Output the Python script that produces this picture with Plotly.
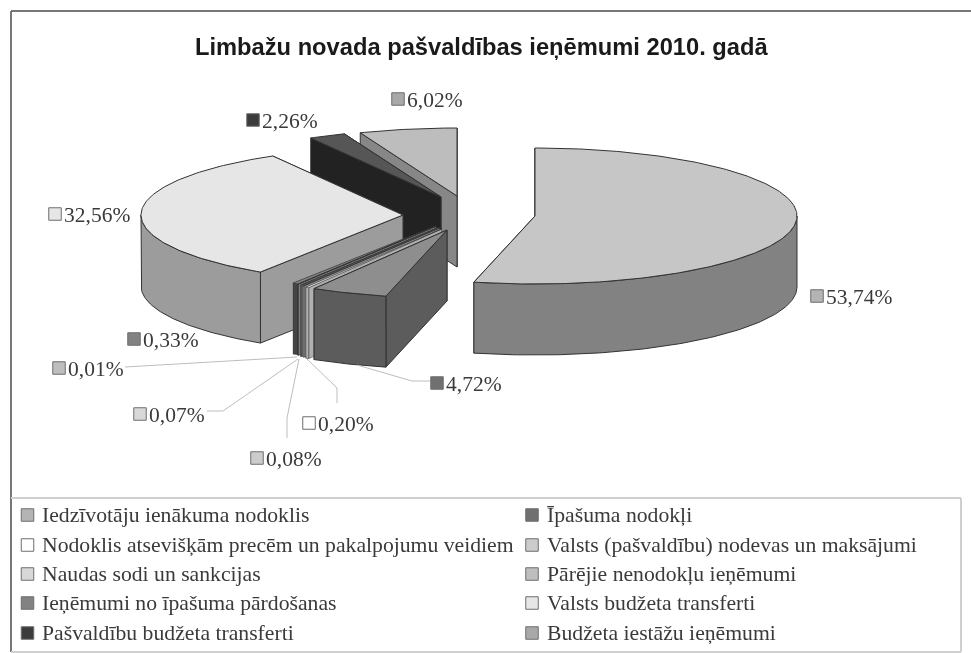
import math
import plotly.graph_objects as go

# ---------- data ----------
categories = ["Iedzīvotāju ienākuma nodoklis", "Īpašuma nodokļi",
              "Nodoklis atsevišķām precēm un pakalpojumu veidiem",
              "Valsts (pašvaldību) nodevas un maksājumi",
              "Naudas sodi un sankcijas", "Pārējie nenodokļu ieņēmumi",
              "Ieņēmumi no īpašuma pārdošanas", "Valsts budžeta transferti",
              "Pašvaldību budžeta transferti", "Budžeta iestāžu ieņēmumi"]
values = [53.74, 4.72, 0.20, 0.08, 0.07, 0.01, 0.33, 32.56, 2.26, 6.02]
title_text = "Limbažu novada pašvaldības ieņēmumi 2010. gadā"

# ---------- styles ----------
top_colors = ["#c6c6c6", "#8e8e8e", "#f4f4f4", "#c8c8c8", "#d8d8d8", "#c0c0c0", "#858585", "#e6e6e6", "#565656", "#bdbdbd"]
wall_colors = ["#828282", "#5c5c5c", "#b0b0b0", "#989898", "#8c8c8c", "#808080", "#454545", "#9c9c9c", "#222222", "#878787"]
swatch_colors = ["#b4b4b4", "#707070", "#ffffff", "#cccccc", "#d8d8d8", "#bebebe", "#828282", "#e6e6e6", "#3c3c3c", "#a8a8a8"]

# ---------- pie geometry (pixel space of the axes) ----------
RX, RY, DEPTH = 262, 68, 71
apex = [(535, 216), (447, 230), (441.6, 229), (439.7, 228), (438.3, 227.5),
        (435.9, 226.5), (435.9, 226), (403, 215), (441, 197), (457, 196)]
draw_order = [9, 8, 7, 6, 5, 4, 3, 2, 0, 1]

label_text = ["53,74%", "4,72%", "0,20%", "0,08%", "0,07%", "0,01%", "0,33%", "32,56%", "2,26%", "6,02%"]
label_swatch = [(817, 296), (437, 383), (309, 423), (257, 458), (140, 414),
                (59, 368), (134, 339), (55, 214), (253, 120), (398, 99)]
leaders = {1: [(430, 381), (412, 381), (357, 365)],
           2: [(337, 403), (337, 388), (307, 359)],
           3: [(287, 438), (287, 418), (299, 359)],
           4: [(207, 411), (223, 411), (298, 359)],
           5: [(125, 367), (297, 357)]}

LEG_X = [27.5, 532]
LEG_Y = [515, 545, 574, 603, 633]

fig = go.Figure()


def poly(xs, ys, fill, line="#333333", width=1):
    fig.add_trace(go.Scatter(x=xs, y=ys, mode="lines", fill="toself", fillcolor=fill,
                             line=dict(color=line, width=width), hoverinfo="skip", showlegend=False))


def pt(a, th, dz=0):
    return a[0] + RX * math.sin(th), a[1] - RY * math.cos(th) + dz


# angular extents from the values
total = sum(values)
edges = [0.0]
for v in values:
    edges.append(edges[-1] + v / total * 2 * math.pi)

for i in draw_order:
    a = apex[i]
    t0, t1 = edges[i], edges[i + 1]
    lw = 0.5 if values[i] < 1 else 1
    # radial walls
    for th in (t1, t0):
        p = pt(a, th)
        poly([a[0], p[0], p[0], a[0], a[0]], [a[1], p[1], p[1] + DEPTH, a[1] + DEPTH, a[1]], wall_colors[i], width=lw)
    # outer wall (front part of the arc only)
    lo, hi = max(t0, math.pi / 2), min(t1, 3 * math.pi / 2)
    if hi > lo:
        n = max(2, int((hi - lo) * 60))
        ang = [lo + (hi - lo) * k / n for k in range(n + 1)]
        up = [pt(a, th) for th in ang]
        dn = [pt(a, th, DEPTH) for th in reversed(ang)]
        poly([q[0] for q in up + dn] + [up[0][0]], [q[1] for q in up + dn] + [up[0][1]], wall_colors[i], width=lw)
    # top face
    n = max(2, int((t1 - t0) * 60))
    ang = [t0 + (t1 - t0) * k / n for k in range(n + 1)]
    arc = [pt(a, th) for th in ang]
    poly([a[0]] + [q[0] for q in arc] + [a[0]], [a[1]] + [q[1] for q in arc] + [a[1]], top_colors[i], width=lw)

# leader lines
for pts in leaders.values():
    fig.add_trace(go.Scatter(x=[q[0] for q in pts], y=[q[1] for q in pts], mode="lines",
                             line=dict(color="#bdbdbd", width=1), hoverinfo="skip", showlegend=False))

# swatches as square markers
sw_x = [q[0] for q in label_swatch]
sw_y = [q[1] for q in label_swatch]
for c in range(2):
    for r in range(5):
        sw_x.append(LEG_X[c])
        sw_y.append(LEG_Y[r])
leg_cols = [swatch_colors[2 * r + c] for c in range(2) for r in range(5)]
fig.add_trace(go.Scatter(x=sw_x, y=sw_y, mode="markers", hoverinfo="skip", showlegend=False,
                         marker=dict(symbol="square", size=12.5, color=[swatch_colors[i] for i in range(10)] + leg_cols,
                                     line=dict(color="#6e6e6e", width=1))))

# data labels
for i, t in enumerate(label_text):
    fig.add_annotation(x=label_swatch[i][0] + 7, y=label_swatch[i][1] + 1, text=t, xanchor="left", yanchor="middle",
                       showarrow=False, font=dict(family="Liberation Serif", size=21.5, color="#3a3a3a"))

# legend text
for c in range(2):
    for r in range(5):
        fig.add_annotation(x=LEG_X[c] + 12.5, y=LEG_Y[r], text=categories[2 * r + c], xanchor="left", yanchor="middle",
                           showarrow=False, font=dict(family="Liberation Serif", size=21.7, color="#3a3a3a"))

fig.add_annotation(x=481, y=47, text="<b>" + title_text + "</b>", showarrow=False, xanchor="center", yanchor="middle",
                   font=dict(family="Liberation Sans", size=23.7, color="#1a1a1a"))

dark = dict(color="#777777", width=2)
light = dict(color="#cfcfcf", width=2)
shapes = [
    dict(type="line", x0=11, y0=11, x1=971, y1=11, line=dark),
    dict(type="line", x0=11, y0=11, x1=11, y1=652, line=dark),
    dict(type="line", x0=11, y0=498, x1=961, y1=498, line=light),
    dict(type="line", x0=961, y0=498, x1=961, y1=652, line=light),
    dict(type="line", x0=11, y0=652, x1=961, y1=652, line=light),
]
fig.update_layout(width=971, height=653, margin=dict(l=0, r=0, t=0, b=0), paper_bgcolor="white",
                  plot_bgcolor="white", shapes=shapes, showlegend=False,
                  xaxis=dict(range=[0, 971], visible=False, fixedrange=True),
                  yaxis=dict(range=[653, 0], visible=False, fixedrange=True))
fig.write_html("out.html", config={"displayModeBar": False},
               post_script="document.body.style.margin='0';document.documentElement.style.overflow='hidden';"
                           "document.body.style.filter='blur(0.5px)';")
